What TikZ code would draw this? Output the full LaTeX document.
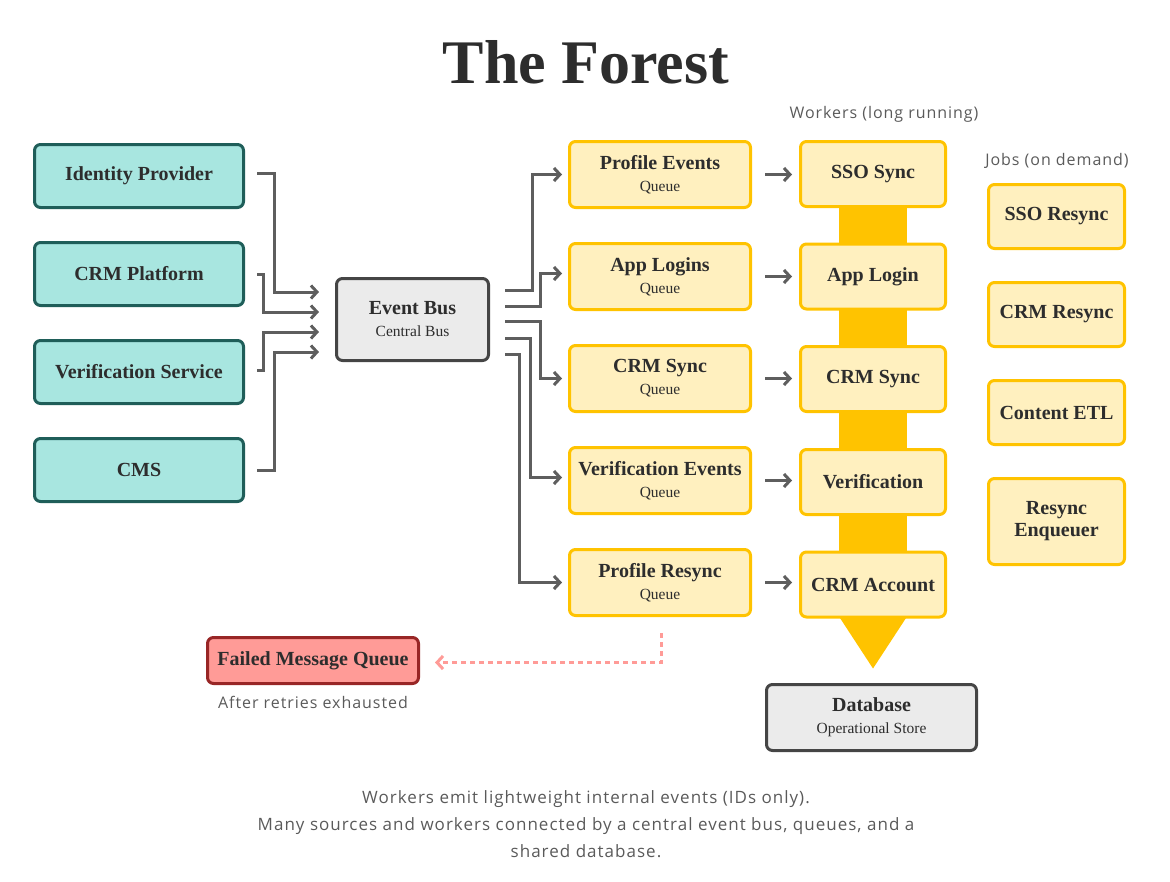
\documentclass[tikz,border=0pt]{standalone}
\usepackage{fontspec}
\setmainfont{Liberation Serif}
\setsansfont{Open Sans}[LetterSpace=6]
\usetikzlibrary{calc, arrows.meta, positioning, backgrounds}
\definecolor{sourcefill}{HTML}{A8E6E0}
\definecolor{sourceline}{HTML}{1F5E59}
\definecolor{busfill}{HTML}{EBEBEB}
\definecolor{busline}{HTML}{454545}
\definecolor{queuefill}{HTML}{FFF0BF}
\definecolor{queueline}{HTML}{FFC300}
\definecolor{failfill}{HTML}{FF9B97}
\definecolor{failline}{HTML}{982626}
\definecolor{arrowgray}{HTML}{5E5E5E}
\definecolor{inkcolor}{HTML}{2D2D2D}
\definecolor{notegray}{HTML}{5A5A5A}
\newcommand{\subtag}[1]{{\fontsize{15.5}{17}\selectfont\mdseries #1}}

\begin{document}
\begin{tikzpicture}[
    x=1pt, y=-1pt,
    >={Straight Barb[length=6pt,width=13pt]},
    box/.style={rounded corners=6pt, line width=3pt, text=inkcolor, align=center,
        inner sep=0pt, font=\fontsize{20}{21}\selectfont\bfseries},
    source/.style={box, fill=sourcefill, draw=sourceline, minimum width=209pt, minimum height=63pt},
    hub/.style={box, fill=busfill, draw=busline},
    queue/.style={box, fill=queuefill, draw=queueline, minimum width=181pt, minimum height=66pt},
    worker/.style={box, fill=queuefill, draw=queueline, minimum width=145pt, minimum height=65pt},
    job/.style={box, fill=queuefill, draw=queueline, minimum width=136pt, minimum height=64pt},
    flow/.style={->, draw=arrowgray, line width=3pt},
    note/.style={font=\sffamily\fontsize{16}{18}\selectfont, text=notegray}
]
    \useasboundingbox (0,0) rectangle (1170,881);

    % Title
    \node[font=\fontsize{62}{66}\selectfont\bfseries, text=inkcolor] (title) at (586,62) {The Forest};

    % Sources
    \node[source] (idp) at (139,176) {Identity Provider};
    \node[source] (crm) at (139,274) {CRM Platform};
    \node[source] (verif) at (139,372) {Verification Service};
    \node[source] (cms) at (139,470) {CMS};

    % Event Bus
    \node[hub, minimum width=152pt, minimum height=82pt] (bus) at (412.5,319.5)
        {Event Bus\\[1pt]\subtag{Central Bus}};

    % Queues
    \node[queue] (q1) at (660,174.5) {Profile Events\\[1pt]\subtag{Queue}};
    \node[queue] (q2) at (660,276.5) {App Logins\\[1pt]\subtag{Queue}};
    \node[queue] (q3) at (660,378.5) {CRM Sync\\[1pt]\subtag{Queue}};
    \node[queue] (q4) at (660,480.5) {Verification Events\\[1pt]\subtag{Queue}};
    \node[queue] (q5) at (660,582.5) {Profile Resync\\[1pt]\subtag{Queue}};

    % Workers (long running)
    \node[note] (wlabel) at (884,114) {Workers (long running)};
    \node[worker] (w1) at (873,174) {SSO Sync};
    \node[worker] (w2) at (873,276.5) {App Login};
    \node[worker] (w3) at (873,379) {CRM Sync};
    \node[worker] (w4) at (873,482) {Verification};
    \node[worker] (w5) at (873,584.5) {CRM Account};

    % Band behind workers, pointing to the store
    \begin{scope}[on background layer]
        \fill[queueline] ($(w1.center)+(-34,0)$) rectangle ($(w5.center)+(34,0)$);
        \fill[queueline] ($(w5.south)+(-34,-2)$) -- ($(w5.south)+(34,-2)$)
            -- ($(w5.south)+(0,50)$) -- cycle;
    \end{scope}

    % Database
    \node[hub, minimum width=210pt, minimum height=66pt] (db) at (871.5,717.5)
        {Database\\[1pt]\subtag{Operational Store}};

    % Jobs (on demand)
    \node[note] (jlabel) at (1057,161) {Jobs (on demand)};
    \node[job] (j1) at (1056.5,216.5) {SSO Resync};
    \node[job] (j2) at (1056.5,314.5) {CRM Resync};
    \node[job] (j3) at (1056.5,412.5) {Content ETL};
    \node[job, minimum height=86pt] (j4) at (1056.5,521.5) {Resync\\[1pt]Enqueuer};

    % Failed Message Queue
    \node[box, fill=failfill, draw=failline, minimum width=211pt, minimum height=46pt] (fmq)
        at (313,660.5) {Failed Message Queue};
    \node[note, below=8pt of fmq] (fmqnote) {After retries exhausted};

    % Sources into the bus
    \draw[flow] (idp.east) ++(12,-3) -| ($(bus.west)+(-61,-27.5)$) -- ($(bus.west)+(-16,-27.5)$);
    \draw[flow] (crm.east) ++(12,0) -| ($(bus.west)+(-72,-7.5)$) -- ($(bus.west)+(-16,-7.5)$);
    \draw[flow] (verif.east) ++(12,-2) -| ($(bus.west)+(-72,12.5)$) -- ($(bus.west)+(-16,12.5)$);
    \draw[flow] (cms.east) ++(12,0) -| ($(bus.west)+(-61,32.5)$) -- ($(bus.west)+(-16,32.5)$);

    % Bus out to the queues
    \draw[flow] ($(bus.east)+(15,-29.5)$) -| ($(q1.west)+(-36,0)$) -- ($(q1.west)+(-6,0)$);
    \draw[flow] ($(bus.east)+(15,-13.5)$) -| ($(q2.west)+(-27.5,-3)$) -- ($(q2.west)+(-6,-3)$);
    \draw[flow] ($(bus.east)+(15,1.5)$) -| ($(q3.west)+(-27.5,0)$) -- ($(q3.west)+(-6,0)$);
    \draw[flow] ($(bus.east)+(15,18.5)$) -| ($(q4.west)+(-37.5,-3)$) -- ($(q4.west)+(-6,-3)$);
    \draw[flow] ($(bus.east)+(15,34.5)$) -| ($(q5.west)+(-48.5,0)$) -- ($(q5.west)+(-6,0)$);

    % Queues to workers
    \foreach \q/\w in {q1/w1, q2/w2, q3/w3, q4/w4, q5/w5}
        \draw[flow, shorten <=13pt, shorten >=7pt] (\q.east) -- (\q.east -| \w.west);

    % Retries exhausted
    \draw[->, draw=failfill, line width=3pt, dash pattern=on 5pt off 4pt]
        ($(q5.south)+(1,16)$) |- ($(fmq.east)+(15,2)$);

    % Footer
    \node[note, align=center, font=\sffamily\fontsize{17}{27}\selectfont] (footer) at (586,824)
        {Workers emit lightweight internal events (IDs only).\\
         Many sources and workers connected by a central event bus, queues, and a\\
         shared database.};

\end{tikzpicture}
\end{document}
